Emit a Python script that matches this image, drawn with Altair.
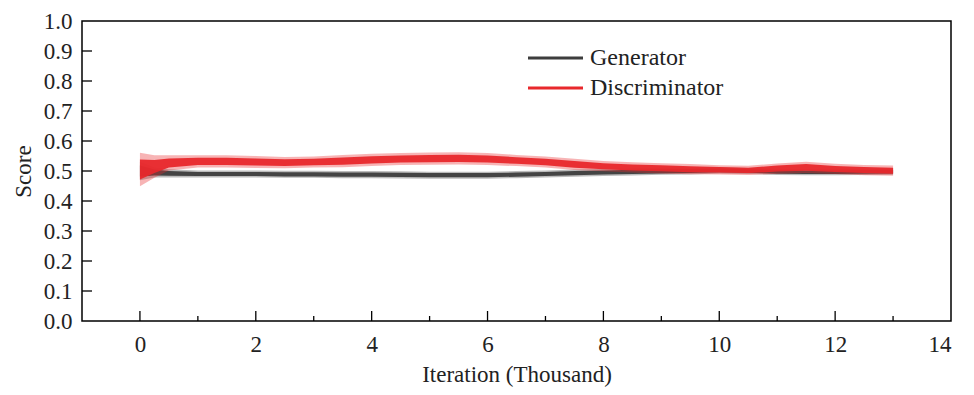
import altair as alt
import pandas as pd

# ---- data ----
iters = [0, 0.25, 0.5, 1, 1.5, 2, 2.5, 3, 3.5, 4, 4.5, 5, 5.5, 6, 6.5, 7,
         7.5, 8, 8.5, 9, 9.5, 10, 10.5, 11, 11.5, 12, 12.5, 13]
disc_mid = [0.505, 0.515, 0.527, 0.532, 0.532, 0.530, 0.528, 0.530, 0.533,
            0.537, 0.540, 0.541, 0.542, 0.540, 0.535, 0.530, 0.522, 0.516,
            0.512, 0.509, 0.506, 0.504, 0.502, 0.508, 0.512, 0.507, 0.503, 0.501]
disc_half = [0.033, 0.022, 0.015, 0.012, 0.012, 0.012, 0.011, 0.011, 0.012,
             0.012, 0.012, 0.012, 0.012, 0.012, 0.011, 0.011, 0.011, 0.010,
             0.010, 0.010, 0.010, 0.009, 0.009, 0.010, 0.011, 0.010, 0.010, 0.010]
gen_mid = [0.500, 0.495, 0.492, 0.490, 0.490, 0.490, 0.489, 0.489, 0.488,
           0.488, 0.487, 0.486, 0.486, 0.486, 0.488, 0.490, 0.493, 0.495,
           0.497, 0.499, 0.500, 0.502, 0.500, 0.497, 0.496, 0.496, 0.497, 0.498]
gen_half = [0.018, 0.010, 0.008, 0.007, 0.007, 0.007, 0.007, 0.007, 0.007,
            0.007, 0.007, 0.007, 0.007, 0.007, 0.007, 0.007, 0.007, 0.007,
            0.007, 0.007, 0.007, 0.006, 0.006, 0.006, 0.006, 0.006, 0.006, 0.006]

series_names = ["Generator", "Discriminator"]
series_colors = ["#3d3d3d", "#e8282c"]

x_label_values = [0, 2, 4, 6, 8, 10, 12, 14]
y_label_values = [0.0, 0.1, 0.2, 0.3, 0.4, 0.5, 0.6, 0.7, 0.8, 0.9, 1.0]
x_major_ticks = [0, 2, 4, 6, 8, 10, 12]
x_minor_ticks = [1, 3, 5, 7, 9, 11, 13]
y_ticks = [0.1, 0.2, 0.3, 0.4, 0.5, 0.6, 0.7, 0.8, 0.9]

FONT = "Liberation Serif"
W, H = 869, 300

rows = []
for name, mids, halves in [("Generator", gen_mid, gen_half),
                           ("Discriminator", disc_mid, disc_half)]:
    for x, m, h in zip(iters, mids, halves):
        rows.append({"series": name, "x": x, "mid": m,
                     "lo": m - h, "hi": m + h,
                     "lo2": m - 1.7 * h, "hi2": m + 1.7 * h})
df = pd.DataFrame(rows)

xscale = alt.Scale(domain=[-1, 14], nice=False, zero=False)
yscale = alt.Scale(domain=[0, 1], nice=False)

x_axis = alt.Axis(values=x_label_values, format="d", title="Iteration (Thousand)",
                  tickSize=0, labelPadding=12, titlePadding=7,
                  grid=False, domain=False, labelOverlap=False)
y_axis = alt.Axis(values=y_label_values, format=".1f", title="Score", tickSize=0,
                  labelPadding=10, titlePadding=8, grid=False, domain=False,
                  labelOverlap=False)


def X(field):
    return alt.X(field, scale=xscale, axis=x_axis)


def Y(field):
    return alt.Y(field, scale=yscale, axis=y_axis)


layers = []
for name, color in zip(series_names, series_colors):
    sub = df[df.series == name]
    halo = alt.Chart(sub).mark_area(color=color, opacity=0.35).encode(
        x=X("x:Q"), y=Y("lo2:Q"), y2="hi2:Q")
    band = alt.Chart(sub).mark_area(color=color, opacity=0.95).encode(
        x=X("x:Q"), y=Y("lo:Q"), y2="hi:Q")
    layers += [halo, band]

# inward ticks
maj = alt.Chart(pd.DataFrame({"t": x_major_ticks})).mark_rule(
    color="black", strokeWidth=1.3).encode(
    x=X("t:Q"), y=alt.value(H), y2=alt.value(H - 10))
mnr = alt.Chart(pd.DataFrame({"t": x_minor_ticks})).mark_rule(
    color="black", strokeWidth=1.3).encode(
    x=X("t:Q"), y=alt.value(H), y2=alt.value(H - 5))
yt = alt.Chart(pd.DataFrame({"t": y_ticks})).mark_rule(
    color="black", strokeWidth=1.3).encode(
    y=Y("t:Q"), x=alt.value(0), x2=alt.value(10))
layers += [maj, mnr, yt]

# legend drawn inside the plot
leg_y = [37, 67]
for name, color, ly in zip(series_names, series_colors, leg_y):
    d = pd.DataFrame({"label": [name]})
    layers.append(alt.Chart(d).mark_rule(color=color, strokeWidth=3).encode(
        x=alt.value(446), x2=alt.value(501), y=alt.value(ly)))
    layers.append(alt.Chart(d).mark_text(
        align="left", baseline="middle", font=FONT, fontSize=24,
        color="#222222").encode(
        text="label:N", x=alt.value(508), y=alt.value(ly)))

chart = alt.layer(*layers).properties(
    width=W, height=H,
    autosize=alt.AutoSizeParams(type="none"),
    padding={"left": 74, "top": 13, "right": 15, "bottom": 66},
).configure_view(
    stroke="black", strokeWidth=1.5
).configure_axis(
    labelFont=FONT, titleFont=FONT, labelFontSize=23, titleFontSize=23,
    labelColor="#222222", titleColor="#222222", titleFontWeight="normal",
)

chart.save("out.html", embed_options={"renderer": "svg", "actions": False})
